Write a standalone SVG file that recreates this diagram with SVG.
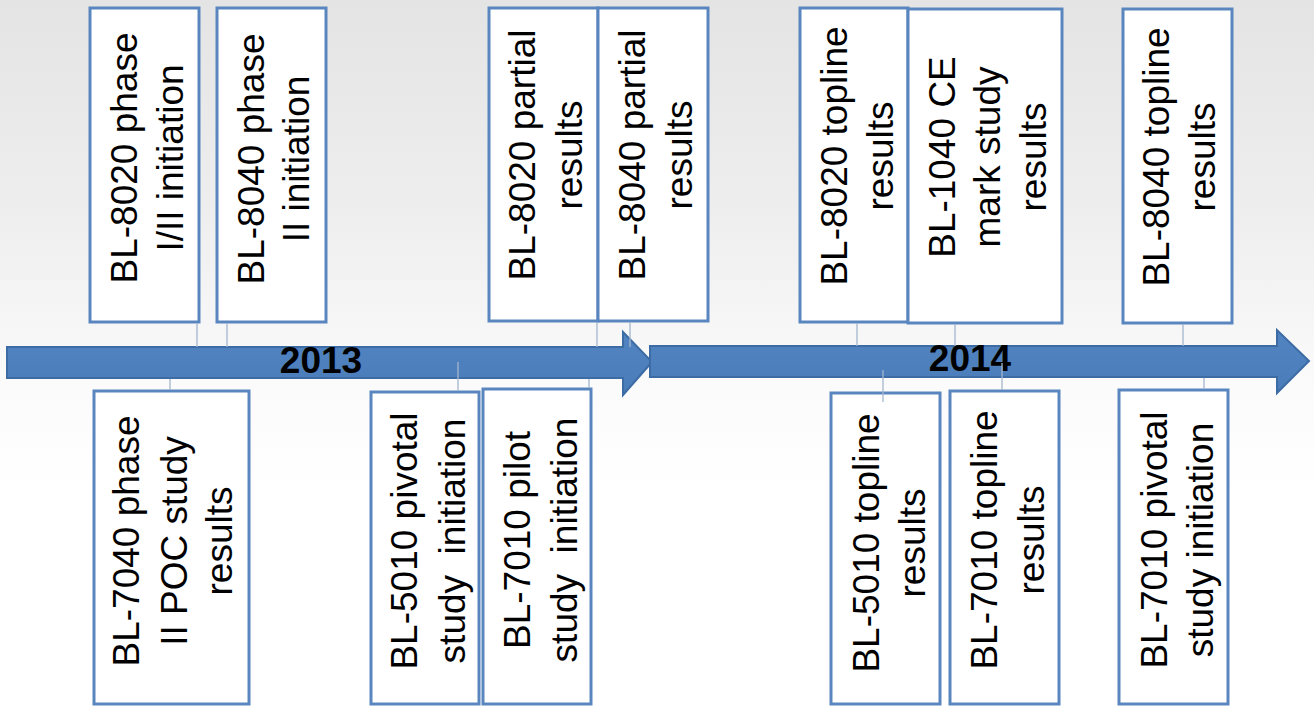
<svg xmlns="http://www.w3.org/2000/svg" width="1314" height="706" viewBox="0 0 1314 706">
<defs>
<linearGradient id="bg" x1="0" y1="0" x2="0" y2="1">
<stop offset="0" stop-color="#e4e4e4"/>
<stop offset="0.3" stop-color="#eeeeee"/>
<stop offset="0.55" stop-color="#fbfbfb"/>
<stop offset="0.7" stop-color="#ffffff"/>
</linearGradient>
<linearGradient id="arr" x1="0" y1="0" x2="0" y2="1">
<stop offset="0" stop-color="#5184c0"/>
<stop offset="1" stop-color="#4a7cb9"/>
</linearGradient>
<style>
.box{fill:#ffffff;stroke:#5a86bf;stroke-width:3}
.t{font-family:"Liberation Sans",Arial,sans-serif;font-size:37px;fill:#000;text-anchor:middle;white-space:pre}
.yr{font-family:"Liberation Sans",Arial,sans-serif;font-size:37px;font-weight:bold;fill:#000;text-anchor:middle}
.arrow{fill:url(#arr);stroke:#3d6ca5;stroke-width:2}
.c{stroke:#a3b6ce;stroke-width:1.3;fill:none}
</style>
</defs>
<rect x="0" y="0" width="1314" height="706" fill="url(#bg)"/>

<g id="timeline">
<path class="arrow" d="M7,347 L623,347 L623,332 L652,362 L623,395 L623,378 L7,378 Z"/>
<path class="arrow" d="M650,346 L1277,346 L1277,330 L1309,361 L1277,393 L1277,377 L650,377 Z"/>
<text class="yr" x="321" y="373">2013</text>
<text class="yr" x="970" y="371">2014</text>
</g>

<g id="n1"><rect class="box" x="90" y="8" width="109" height="314"/>
<text class="t" transform="translate(137,158) rotate(-90)">BL-8020 phase</text>
<text class="t" transform="translate(183,158) rotate(-90)">I/II initiation</text></g>

<g id="n2"><rect class="box" x="217" y="8" width="109" height="314"/>
<text class="t" transform="translate(264,159) rotate(-90)">BL-8040 phase</text>
<text class="t" transform="translate(309,159) rotate(-90)">II initiation</text></g>

<g id="n3"><rect class="box" x="489" y="8" width="109" height="313"/>
<text class="t" transform="translate(535,155) rotate(-90)">BL-8020 partial</text>
<text class="t" transform="translate(582,155) rotate(-90)">results</text></g>

<g id="n4"><rect class="box" x="598" y="8" width="110" height="313"/>
<text class="t" transform="translate(645,155) rotate(-90)">BL-8040 partial</text>
<text class="t" transform="translate(692,155) rotate(-90)">results</text></g>

<g id="n5"><rect class="box" x="800" y="8" width="108" height="314"/>
<text class="t" transform="translate(847,156) rotate(-90)">BL-8020 topline</text>
<text class="t" transform="translate(893,156) rotate(-90)">results</text></g>

<g id="n6"><rect class="box" x="908" y="9" width="154" height="314"/>
<text class="t" transform="translate(955,157) rotate(-90)">BL-1040 CE</text>
<text class="t" transform="translate(1000,157) rotate(-90)">mark study</text>
<text class="t" transform="translate(1046,157) rotate(-90)">results</text></g>

<g id="n7"><rect class="box" x="1123" y="9" width="109" height="314"/>
<text class="t" transform="translate(1169,157) rotate(-90)">BL-8040 topline</text>
<text class="t" transform="translate(1215,157) rotate(-90)">results</text></g>

<g id="n8"><rect class="box" x="94" y="391" width="155" height="313"/>
<text class="t" transform="translate(139,541) rotate(-90)">BL-7040 phase</text>
<text class="t" transform="translate(187,541) rotate(-90)">II POC study</text>
<text class="t" transform="translate(232,541) rotate(-90)">results</text></g>

<g id="n9"><rect class="box" x="371" y="392" width="108" height="312"/>
<text class="t" transform="translate(417,541) rotate(-90)">BL-5010 pivotal</text>
<text class="t" transform="translate(465,541) rotate(-90)">study  initiation</text></g>

<g id="n10"><rect class="box" x="483" y="389" width="108" height="315"/>
<text class="t" transform="translate(530,540) rotate(-90)">BL-7010 pilot</text>
<text class="t" transform="translate(577,540) rotate(-90)">study  initiation</text></g>

<g id="n11"><rect class="box" x="831" y="393" width="109" height="311"/>
<text class="t" transform="translate(879,543) rotate(-90)">BL-5010 topline</text>
<text class="t" transform="translate(925,543) rotate(-90)">results</text></g>

<g id="n12"><rect class="box" x="950" y="391" width="109" height="313"/>
<text class="t" transform="translate(997,540) rotate(-90)">BL-7010 topline</text>
<text class="t" transform="translate(1044,540) rotate(-90)">results</text></g>

<g id="n13"><rect class="box" x="1119" y="390" width="109" height="314"/>
<text class="t" transform="translate(1167,540) rotate(-90)">BL-7010 pivotal</text>
<text class="t" transform="translate(1213,540) rotate(-90)">study initiation</text></g>

<g id="connectors">
<line class="c" x1="197" y1="323" x2="197" y2="347"/>
<line class="c" x1="227" y1="323" x2="227" y2="347"/>
<line class="c" x1="597" y1="322" x2="597" y2="347"/>
<line class="c" x1="630" y1="322" x2="630" y2="347"/>
<line class="c" x1="857" y1="323" x2="857" y2="346"/>
<line class="c" x1="955" y1="324" x2="955" y2="346"/>
<line class="c" x1="1183" y1="324" x2="1183" y2="346"/>
<line class="c" x1="170" y1="379" x2="170" y2="390"/>
<line class="c" x1="458" y1="362" x2="458" y2="391"/>
<line class="c" x1="589" y1="379" x2="589" y2="388"/>
<line class="c" x1="883" y1="370" x2="883" y2="402"/>
<line class="c" x1="1002" y1="363" x2="1002" y2="390"/>
<line class="c" x1="1204" y1="378" x2="1204" y2="389"/>
</g>
</svg>
